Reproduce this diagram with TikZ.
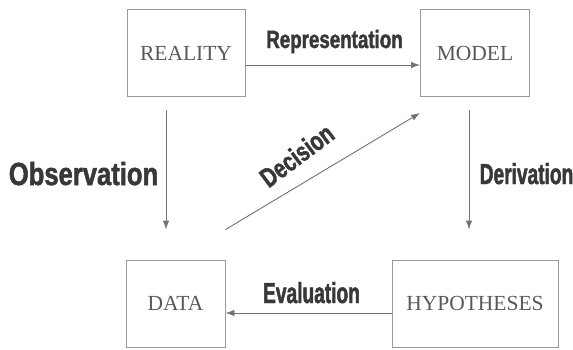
\documentclass[tikz,border=0pt]{standalone}
\usepackage{fontspec}
\setmainfont{Liberation Serif}
\newfontfamily\lblfont{Liberation Sans Bold}[FakeStretch=0.66, FakeBold=1.6]
\newfontfamily\lblmid{Liberation Sans Bold}[FakeStretch=0.75, FakeBold=1.6]
\newfontfamily\lblwide{Liberation Sans Bold}[FakeStretch=0.8, FakeBold=1.6]
\usetikzlibrary{arrows.meta}

\begin{document}
\begin{tikzpicture}[
  x=1pt, y=-1pt,
  box/.style={draw=black!40, line width=0.9pt, text=black!65, font=\fontsize{21.5}{24}\selectfont, minimum height=87pt, inner sep=0pt},
  arrow/.style={-{Latex[length=9pt,width=6.5pt]}, draw=black!55, line width=0.9pt},
  lbl/.style={text=black!78, anchor=base, inner sep=0pt}
]
\useasboundingbox (0,0) rectangle (573,349);
\node[box, minimum width=118pt] (reality) at (186,53) {REALITY};
\node[box, minimum width=109pt] (model) at (475,53) {MODEL};
\node[box, minimum width=99pt] (data) at (175.5,303.5) {DATA};
\node[box, minimum width=166pt] (hyp) at (475,303.5) {HYPOTHESES};
\draw[arrow] ([yshift=-12pt]reality.east) -- ([yshift=-12pt]model.west);
\draw[arrow, shorten <=13pt, shorten >=30pt] (reality.south -| 166,0) -- (data.north -| 166,0);
\draw[arrow, shorten <=13pt, shorten >=30pt] (model.south -| 469,0) -- (hyp.north -| 469,0);
\draw[arrow] ([yshift=30pt]data.north east) -- ([yshift=-16pt]model.south west);
\draw[arrow] ([yshift=-9.5pt]hyp.west) -- ([yshift=-9.5pt]data.east);
\node[lbl, font=\fontsize{25}{28}\lblmid] (repr) at (334.5,48) {Representation};
\node[lbl, font=\fontsize{32}{36}\lblwide] (obs) at (83.5,185) {Observation};
\node[lbl, font=\fontsize{29}{32}\lblfont] (deriv) at (526.5,184) {Derivation};
\node[lbl, font=\fontsize{29}{32}\lblfont] (eval) at (311.5,303) {Evaluation};
\node[lbl, font=\fontsize{27}{30}\lblmid, rotate=37] (dec) at (302.5,163) {Decision};
\end{tikzpicture}
\end{document}
